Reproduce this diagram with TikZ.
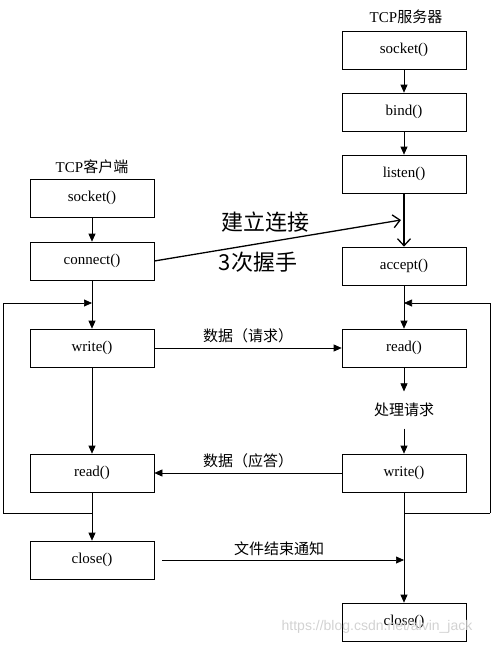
\documentclass[tikz,border=0pt]{standalone}
\usepackage{fontspec}
\setmainfont{Liberation Serif}
\newfontfamily\cjk{Noto Sans CJK SC}
\newfontfamily\wmfont{Liberation Sans}
\usetikzlibrary{arrows.meta}
\tikzset{
    callbox/.style={draw, line width=0.7pt, minimum width=124pt, minimum height=38pt, font=\fontsize{15}{17}\selectfont},
    flow/.style={line width=0.7pt, -{Triangle[length=8pt,width=7pt]}},
    wire/.style={line width=0.7pt},
    shake/.style={line width=1.3pt, -{Straight Barb[length=7pt,width=13pt]}},
    note/.style={font=\cjk\fontsize{15}{17}\selectfont},
    bignote/.style={font=\cjk\fontsize{22}{25}\selectfont}
}
\begin{document}
\begin{tikzpicture}[x=1pt, y=-1pt]
            \useasboundingbox (0,0) rectangle (495,646);

            \node[note] (srvtitle) at (406, 17) {\rmfamily TCP\cjk 服务器};
            \node[note] (clititle) at (92, 167) {\rmfamily TCP\cjk 客户端};

            \node[callbox] (ssock) at (404, 50) {socket()};
            \node[callbox] (sbind) at (404, 112) {bind()};
            \node[callbox] (slisten) at (404, 174) {listen()};
            \node[callbox] (saccept) at (404, 266) {accept()};
            \node[callbox] (sread) at (404, 348) {read()};
            \node[note, inner ysep=11.5pt] (proc) at (404, 410) {处理请求};
            \node[callbox] (swrite) at (404, 473) {write()};
            \node[callbox] (sclose) at (404, 622) {close()};

            \node[callbox] (csock) at (92, 198) {socket()};
            \node[callbox] (cconn) at (92, 261) {connect()};
            \node[callbox] (cwrite) at (92, 348) {write()};
            \node[callbox] (cread) at (92, 473) {read()};
            \node[callbox] (cclose) at (92, 560) {close()};

            \coordinate (hs) at (401, 220);
            \coordinate (fin) at (404, 560);
            \coordinate (lbot) at (3, 513);
            \coordinate (ljoin) at (92, 303);
            \coordinate (rbot) at (490, 513);
            \coordinate (rjoin) at (404, 303);

            \draw[flow] (ssock) -- (sbind);
            \draw[flow] (sbind) -- (slisten);
            \draw[shake] (slisten) -- (saccept);
            \draw[flow] (saccept) -- (sread);
            \draw[flow] (sread) -- (proc);
            \draw[flow] (proc) -- (swrite);
            \draw[wire] (swrite) -- (fin);
            \draw[flow] (fin) -- (sclose);

            \draw[flow] (csock) -- (cconn);
            \draw[flow] (cconn) -- (cwrite);
            \draw[flow] (cwrite) -- (cread);
            \draw[flow] (cread) -- (cclose);

            \draw[shake] (cconn.east) -- (hs);
            \node[bignote] (hslbl) at (265, 222) {建立连接};
            \node[bignote] (hscnt) at (258, 262) {3次握手};

            \draw[flow] (cwrite) -- node[note, above=1pt] (reqlbl) {数据（请求）} (sread);
            \draw[flow] (swrite) -- node[note, above=1pt] (replbl) {数据（应答）} (cread);
            \draw[flow, shorten <=8pt] (cclose.east) -- node[note, above=1pt] (finlbl) {文件结束通知} (fin);

            \draw[wire] (cread.south) |- (lbot);
            \draw[flow] (lbot) |- (ljoin);
            \draw[wire] (swrite.south) |- (rbot);
            \draw[flow] (rbot) |- (rjoin);

            \node[text=gray!35, font=\wmfont\fontsize{14}{16}\selectfont] (wmark) at (377, 627) {https://blog.csdn.net/alvin\_jack};
        \end{tikzpicture}
\end{document}
